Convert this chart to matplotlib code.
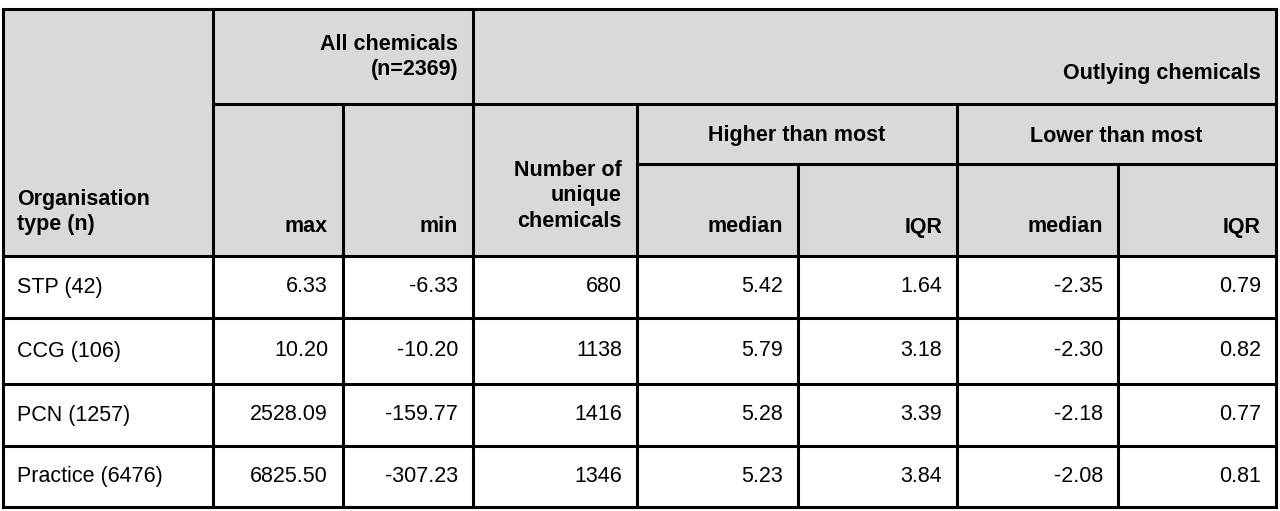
import matplotlib
matplotlib.use("Agg")
import matplotlib.pyplot as plt

org_types = ["STP (42)", "CCG (106)", "PCN (1257)", "Practice (6476)"]
all_max = ["6.33", "10.20", "2528.09", "6825.50"]
all_min = ["-6.33", "-10.20", "-159.77", "-307.23"]
n_unique = ["680", "1138", "1416", "1346"]
hi_median = ["5.42", "5.79", "5.28", "5.23"]
hi_iqr = ["1.64", "3.18", "3.39", "3.84"]
lo_median = ["-2.35", "-2.30", "-2.18", "-2.08"]
lo_iqr = ["0.79", "0.82", "0.77", "0.81"]

fig = plt.figure(figsize=(12.8, 5.11), dpi=100)
ax = fig.add_axes([0, 0, 1, 1])
ax.set_xlim(0, 1280); ax.set_ylim(511, 0); ax.axis("off")
FONT = "Liberation Sans"; FS = 15.5
xs = [3, 213, 343, 473, 637, 798, 957, 1118, 1276]
ys = [9, 104, 164, 256, 318, 384, 446, 507]
hdr = "#d9d9d9"
ax.add_patch(plt.Rectangle((xs[0], ys[0]), xs[-1]-xs[0], ys[3]-ys[0], color=hdr, lw=0))
lw = 2.2
def L(x0, y0, x1, y1):
    ax.plot([x0, x1], [y0, y1], color="black", lw=lw, solid_capstyle="projecting")
# outer
L(xs[0], ys[0], xs[-1], ys[0]); L(xs[0], ys[-1], xs[-1], ys[-1])
L(xs[0], ys[0], xs[0], ys[-1]); L(xs[-1], ys[0], xs[-1], ys[-1])
for y in ys[3:-1]:
    L(xs[0], y, xs[-1], y)
L(xs[1], ys[1], xs[-1], ys[1])
L(xs[4], ys[2], xs[-1], ys[2])
L(xs[1], ys[0], xs[1], ys[-1]); L(xs[3], ys[0], xs[3], ys[-1])
L(xs[2], ys[1], xs[2], ys[-1]); L(xs[4], ys[1], xs[4], ys[-1])
L(xs[6], ys[1], xs[6], ys[-1])
L(xs[5], ys[2], xs[5], ys[-1]); L(xs[7], ys[2], xs[7], ys[-1])

def T(x, y, s, ha="right", bold=False, va="center"):
    ax.text(x, y, s, ha=ha, va=va, fontsize=FS, family=FONT,
            fontweight="bold" if bold else "normal", linespacing=1.3)
pad = 15
T(17, 212, "Organisation\ntype (n)", ha="left", bold=True)
T(xs[3]-pad, 57, "All chemicals\n(n=2369)", bold=True)
T(xs[-1]-pad, 74, "Outlying chemicals", bold=True)
T((xs[4]+xs[6])/2, 136, "Higher than most", ha="center", bold=True)
T((xs[6]+xs[-1])/2, 136, "Lower than most", ha="center", bold=True)
T(xs[2]-pad, 227, "max", bold=True)
T(xs[3]-pad, 227, "min", bold=True)
T(xs[4]-pad, 196, "Number of\nunique\nchemicals", bold=True)
for i, s in enumerate(["median", "IQR", "median", "IQR"]):
    T(xs[5+i]-pad, 227, s, bold=True)

cols = [all_max, all_min, n_unique, hi_median, hi_iqr, lo_median, lo_iqr]
for r in range(len(org_types)):
    yc = (ys[3+r] + ys[4+r]) / 2
    T(17, yc, org_types[r], ha="left")
    for c, col in enumerate(cols):
        T(xs[c+2]-pad, yc, col[r])
fig.savefig("out.png", dpi=100)
